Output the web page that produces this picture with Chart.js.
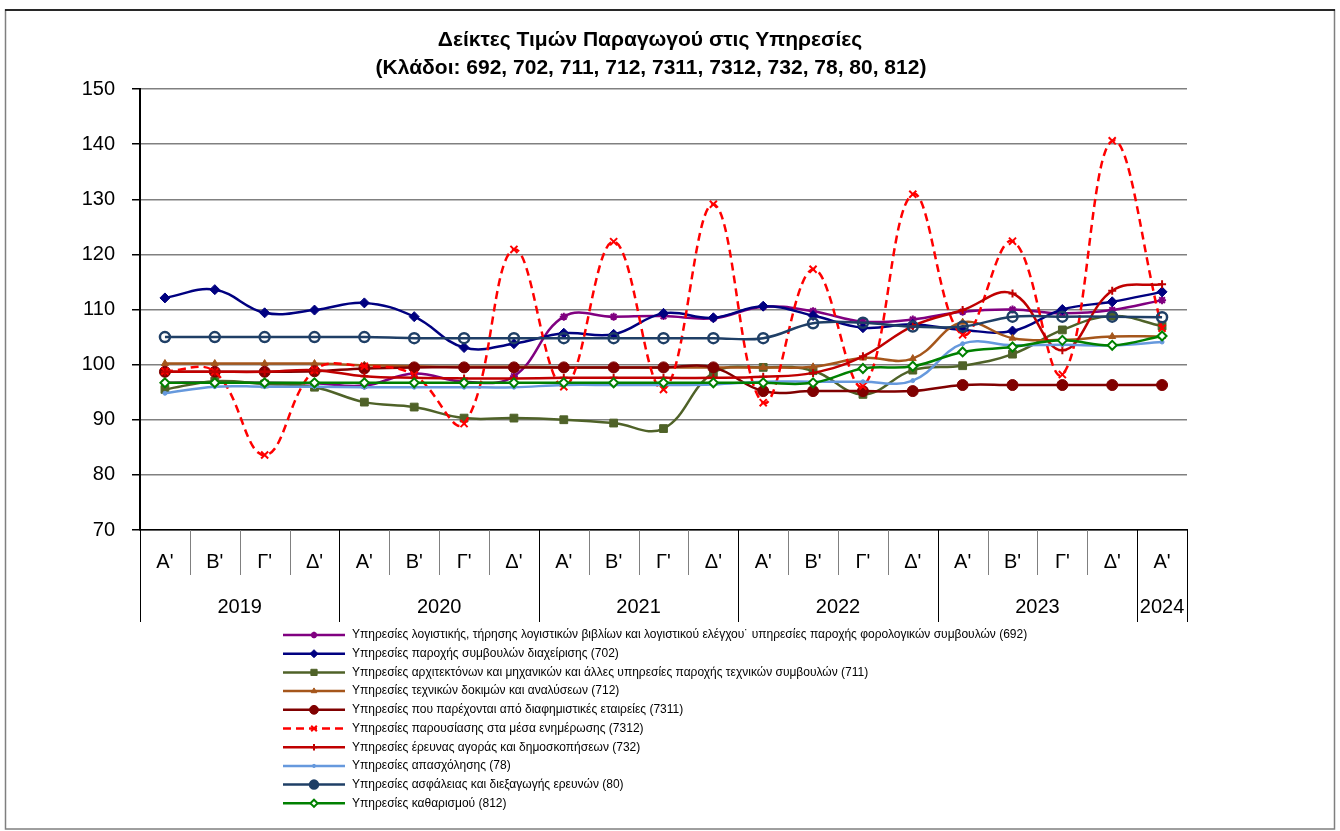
<!DOCTYPE html>
<html>
<head>
<meta charset="utf-8">
<script src="https://cdn.jsdelivr.net/npm/chart.js"></script>
<style>
  html, body { margin: 0; padding: 0; background: #fff; overflow: hidden; }
  #wrap { position: relative; width: 1340px; height: 831px; }
</style>
</head>
<body>
<div id="wrap"><canvas id="chart"></canvas></div>
<script>
// --- Δεδομένα ---
const quarters = ["Α'", "Β'", "Γ'", "Δ'", "Α'", "Β'", "Γ'", "Δ'", "Α'", "Β'", "Γ'", "Δ'",
                  "Α'", "Β'", "Γ'", "Δ'", "Α'", "Β'", "Γ'", "Δ'", "Α'"];
const years = ['2019', '2020', '2021', '2022', '2023', '2024'];
const quartersPerYear = [4, 4, 4, 4, 4, 1];
const yTicks = [70, 80, 90, 100, 110, 120, 130, 140, 150];

const titleLines = ['Δείκτες Τιμών Παραγωγού στις Υπηρεσίες',
                    '(Κλάδοι: 692, 702, 711, 712, 7311, 7312, 732, 78, 80, 812)'];

const s692  = [96.7, 96.8, 96.7, 96.6, 96.2, 98.4, 96.9, 97.9, 108.7, 108.7, 108.8, 108.4, 110.5, 109.7, 107.8, 108.2, 109.6, 110.0, 109.3, 109.9, 111.7];
const s702  = [112.1, 113.6, 109.4, 109.9, 111.2, 108.7, 103.1, 103.8, 105.7, 105.5, 109.3, 108.5, 110.6, 108.9, 106.7, 107.3, 106.3, 106.1, 110.0, 111.4, 113.2];
const s711  = [95.5, 97.0, 96.5, 95.9, 93.2, 92.3, 90.3, 90.3, 90.0, 89.4, 88.4, 98.5, 99.5, 98.9, 94.6, 99.0, 99.8, 101.9, 106.3, 108.8, 107.0];
const s712  = [100.2, 100.2, 100.2, 100.2, 99.9, 99.7, 99.6, 99.6, 99.5, 99.5, 99.5, 99.5, 99.5, 99.6, 101.2, 101.1, 107.7, 104.8, 104.5, 105.1, 105.1];
const s7311 = [98.7, 98.7, 98.7, 98.8, 99.3, 99.5, 99.5, 99.5, 99.5, 99.5, 99.5, 99.5, 95.2, 95.2, 95.2, 95.2, 96.3, 96.3, 96.3, 96.3, 96.3];
const s7312 = [98.8, 98.7, 83.6, 99.0, 99.7, 98.1, 89.3, 120.9, 96.0, 122.3, 95.5, 129.1, 93.1, 117.3, 96.1, 130.9, 105.4, 122.4, 98.2, 140.6, 106.6];
const s732  = [98.7, 98.7, 98.7, 99.0, 97.9, 97.6, 97.5, 97.5, 97.6, 97.6, 97.6, 97.6, 97.8, 98.5, 101.5, 107.0, 109.9, 112.9, 102.6, 113.4, 114.6];
const s78   = [94.8, 96.0, 96.0, 96.0, 95.9, 95.9, 95.9, 95.9, 96.3, 96.3, 96.3, 96.4, 96.9, 96.9, 96.9, 97.1, 103.8, 103.5, 103.6, 103.5, 104.1];
const s80   = [105.0, 105.0, 105.0, 105.0, 105.0, 104.8, 104.8, 104.8, 104.8, 104.8, 104.8, 104.8, 104.8, 107.5, 107.6, 106.9, 106.9, 108.7, 108.7, 108.7, 108.6];
const s812  = [96.7, 96.7, 96.7, 96.7, 96.7, 96.7, 96.7, 96.7, 96.7, 96.7, 96.7, 96.7, 96.7, 96.7, 99.3, 99.7, 102.3, 103.2, 104.4, 103.5, 105.2];

const names = [
  'Υπηρεσίες λογιστικής, τήρησης λογιστικών βιβλίων και λογιστικού ελέγχου˙ υπηρεσίες παροχής φορολογικών συμβουλών (692)',
  'Υπηρεσίες παροχής συμβουλών διαχείρισης (702)',
  'Υπηρεσίες αρχιτεκτόνων και μηχανικών και άλλες υπηρεσίες παροχής τεχνικών συμβουλών (711)',
  'Υπηρεσίες τεχνικών δοκιμών και αναλύσεων (712)',
  'Υπηρεσίες που παρέχονται από διαφημιστικές εταιρείες (7311)',
  'Υπηρεσίες παρουσίασης στα μέσα ενημέρωσης (7312)',
  'Υπηρεσίες έρευνας αγοράς και δημοσκοπήσεων (732)',
  'Υπηρεσίες απασχόλησης (78)',
  'Υπηρεσίες ασφάλειας και διεξαγωγής ερευνών (80)',
  'Υπηρεσίες καθαρισμού (812)'
];

// --- Στυλ σειρών ---
const FONT = "'Liberation Sans', Arial, sans-serif";
const seriesStyle = [
  { data: s692,  color: '#800080', style: 'star',     r: 4,   fill: '#800080', bw: 2 },
  { data: s702,  color: '#000080', style: 'rectRot',  r: 5,   fill: '#000080', bw: 1 },
  { data: s711,  color: '#4F6228', style: 'rect',     r: 5.5, fill: '#4F6228', bw: 1 },
  { data: s712,  color: '#A5561B', style: 'triangle', r: 4,   fill: '#A5561B', bw: 1 },
  { data: s7311, color: '#800000', style: 'circle',   r: 5.5, fill: '#800000', bw: 1 },
  { data: s7312, color: '#FF0000', style: 'crossRot', r: 5,   fill: '#FF0000', bw: 2, dash: [8, 5] },
  { data: s732,  color: '#C00000', style: 'cross',    r: 4,   fill: '#C00000', bw: 2 },
  { data: s78,   color: '#6699DD', style: 'circle',   r: 2,   fill: '#6699DD', bw: 1 },
  { data: s80,   color: '#1F3F66', style: 'circle',   r: 5,   fill: 'rgba(255,255,255,0)', bw: 2.5, legendFill: '#1F3F66' },
  { data: s812,  color: '#008000', style: 'rectRot',  r: 4.5, fill: '#FFFFFF', bw: 2 }
];

const datasets = seriesStyle.map((s, i) => ({
  label: names[i],
  data: s.data,
  borderColor: s.color,
  backgroundColor: s.color,
  borderWidth: 2.5,
  borderDash: s.dash || [],
  tension: 0.4,
  pointStyle: s.style,
  pointRadius: s.r,
  pointBackgroundColor: s.fill,
  pointBorderColor: s.color,
  pointBorderWidth: s.bw,
  order: seriesStyle.length - i,
  legendFill: s.legendFill || s.fill
}));

// --- Plugin: πλαίσιο, τίτλος, άξονας Χ με ομάδες, υπόμνημα ---
const decorPlugin = {
  id: 'decor',
  beforeDraw(chart) {
    const ctx = chart.ctx;
    ctx.save();
    ctx.fillStyle = '#fff';
    ctx.fillRect(0, 0, chart.width, chart.height);
    ctx.strokeStyle = '#7f7f7f';
    ctx.lineWidth = 1.5;
    ctx.strokeRect(5.5, 10, 1329, 819);
    ctx.strokeStyle = '#000';
    ctx.beginPath(); ctx.moveTo(5, 10); ctx.lineTo(1335, 10); ctx.stroke();
    ctx.restore();
  },
  afterDraw(chart) {
    const ctx = chart.ctx;
    const xs = chart.scales.x;
    ctx.save();

    // τίτλος
    ctx.fillStyle = '#000';
    ctx.textAlign = 'center';
    ctx.textBaseline = 'middle';
    ctx.font = 'bold 21px ' + FONT;
    ctx.fillText(titleLines[0], 650, 40);
    ctx.fillText(titleLines[1], 651, 68);

    // άξονας Χ: τρίμηνα και έτη
    const n = quarters.length;
    const centers = quarters.map((q, i) => xs.getPixelForValue(i));
    const edge = i => i <= 0 ? xs.left : (i >= n ? xs.right : (centers[i - 1] + centers[i]) / 2);
    const y0 = xs.top;
    ctx.lineWidth = 1;
    ctx.font = '20px ' + FONT;
    quarters.forEach((q, i) => {
      ctx.fillText(q, centers[i], y0 + 32);
    });
    const yearStarts = [0];
    quartersPerYear.forEach((c, k) => yearStarts.push(yearStarts[k] + c));
    for (let i = 0; i <= n; i++) {
      const x = Math.round(edge(i)) + 0.5;
      const isYear = yearStarts.includes(i);
      ctx.strokeStyle = isYear ? '#000' : '#808080';
      ctx.beginPath();
      ctx.moveTo(x, y0);
      ctx.lineTo(x, y0 + (isYear ? 92 : 45));
      ctx.stroke();
    }
    years.forEach((yr, k) => {
      const a = edge(yearStarts[k]), b = edge(yearStarts[k + 1]);
      ctx.fillText(yr, (a + b) / 2, y0 + 77);
    });

    // υπόμνημα
    const lx = 283, lw = 62, ly = 635, lstep = 18.7;
    ctx.textAlign = 'left';
    ctx.font = '12px ' + FONT;
    chart.data.datasets.forEach((ds, i) => {
      const y = ly + i * lstep;
      ctx.strokeStyle = ds.borderColor;
      ctx.lineWidth = 2.5;
      ctx.setLineDash(ds.borderDash);
      ctx.beginPath();
      ctx.moveTo(lx, y);
      ctx.lineTo(lx + lw, y);
      ctx.stroke();
      ctx.setLineDash([]);
      ctx.fillStyle = ds.legendFill;
      ctx.strokeStyle = ds.pointBorderColor;
      ctx.lineWidth = ds.pointBorderWidth;
      Chart.helpers.drawPoint(ctx, {
        pointStyle: ds.pointStyle,
        radius: ds.pointRadius * 0.8,
        rotation: 0,
        borderWidth: ds.pointBorderWidth
      }, lx + lw / 2, y);
      ctx.fillStyle = '#000';
      ctx.fillText(ds.label, lx + lw + 7, y);
    });
    ctx.restore();
  }
};

Chart.defaults.font.family = FONT;
Chart.defaults.color = '#000';

new Chart(document.getElementById('chart'), {
  type: 'line',
  data: { labels: quarters, datasets: datasets },
  options: {
    responsive: true,
    maintainAspectRatio: false,
    animation: false,
    layout: { padding: { left: 50, right: 153, top: 89, bottom: 301 } },
    plugins: {
      legend: { display: false },
      title: { display: false },
      tooltip: { enabled: false }
    },
    scales: {
      x: {
        type: 'category',
        offset: true,
        grid: { display: false, drawTicks: false },
        border: { display: true, color: '#000', width: 1.5 },
        ticks: { display: false },
        afterFit: s => { s.height = 0; }
      },
      y: {
        min: 70,
        max: 150,
        afterBuildTicks: s => { s.ticks = yTicks.map(v => ({ value: v })); },
        afterFit: s => { s.width = 90; },
        grid: { color: '#808080', lineWidth: 1.5, tickLength: 8, tickColor: '#000', tickWidth: 1.5 },
        border: { color: '#000', width: 2 },
        ticks: { padding: 17, font: { size: 20 }, color: '#000' }
      }
    }
  },
  plugins: [decorPlugin]
});
</script>
</body>
</html>
